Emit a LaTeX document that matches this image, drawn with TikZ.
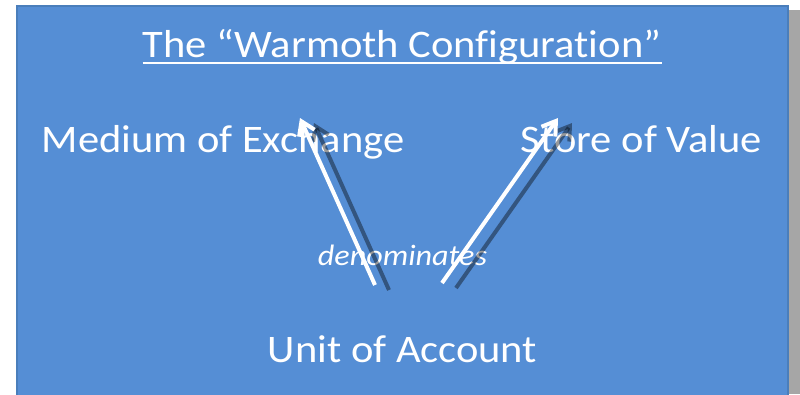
\documentclass[tikz,border=0pt]{standalone}
\usepackage{fontspec}
\setmainfont{Carlito}[FakeStretch=1.09, Ligatures=NoCommon]
\usetikzlibrary{arrows.meta}
\definecolor{panelblue}{HTML}{558ED5}
\definecolor{paneledge}{HTML}{4A7EBB}
\definecolor{shadowgray}{HTML}{A6A6A6}
\tikzset{
  lbl/.style={text=white, inner sep=0pt, anchor=base, font=\fontsize{39}{47}\selectfont},
  smalllbl/.style={text=white, inner sep=0pt, anchor=base, font=\fontsize{29.5}{35}\selectfont\itshape},
  arr/.style={white, line width=4pt, -{Straight Barb[length=13pt,width=17pt]}},
  arrshadow/.style={black, opacity=0.4, line width=4pt, -{Straight Barb[length=13pt,width=17pt]}}
}
\begin{document}
\begin{tikzpicture}[x=1pt,y=-1pt]
\useasboundingbox (0,0) rectangle (800,394);
\fill[shadowgray] (788,10) rectangle (800,394);
\filldraw[fill=panelblue, draw=paneledge, line width=1.5pt] (17,6) rectangle (788,396);
\node[lbl] (title) at (402,57) {The “Warmoth Configuration”};
\draw[white, line width=1.8pt] ([yshift=-6pt]title.base west) -- ([yshift=-6pt]title.base east);
\node[lbl] (medium) at (223,152) {Medium of Exchange};
\node[lbl] (store) at (641.5,152) {Store of Value};
\node[smalllbl] (denom) at (402.5,265) {denominates};
\node[lbl] (unit) at (402.5,362) {Unit of Account};
\coordinate (l0) at (375,285);
\coordinate (l1) at (300,118);
\coordinate (r0) at (442,283);
\coordinate (r1) at (558,118);
\draw[arrshadow] ([shift={(14,5)}]l0) -- ([shift={(14,5)}]l1);
\draw[arrshadow] ([shift={(14,5)}]r0) -- ([shift={(14,5)}]r1);
\draw[arr] (l0) -- (l1);
\draw[arr] (r0) -- (r1);
\end{tikzpicture}
\end{document}
